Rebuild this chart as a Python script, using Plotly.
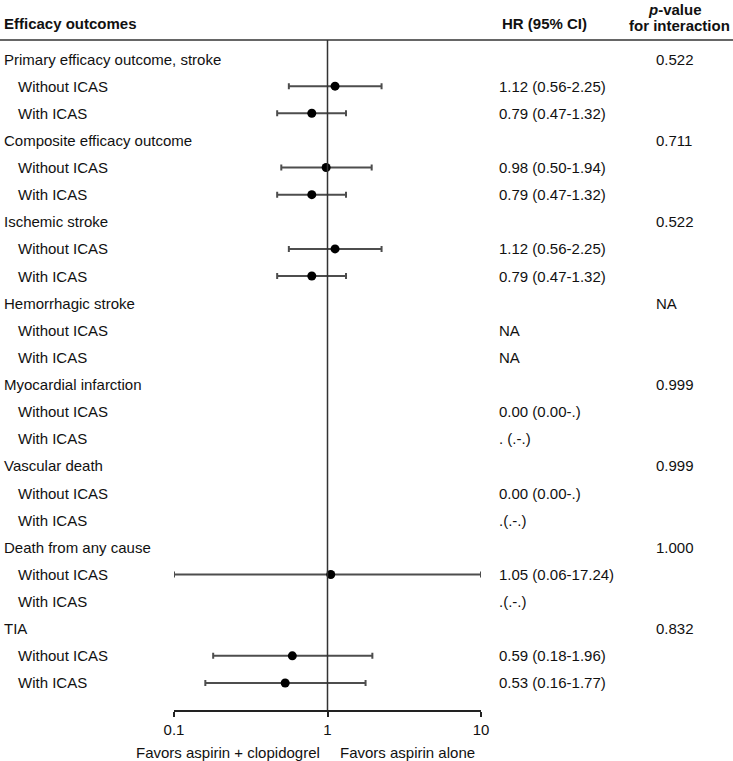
import plotly.graph_objects as go

# outcome groups and their interaction p-values
groups = ["Primary efficacy outcome, stroke", "Composite efficacy outcome", "Ischemic stroke",
          "Hemorrhagic stroke", "Myocardial infarction", "Vascular death",
          "Death from any cause", "TIA"]
p_values = ["0.522", "0.711", "0.522", "NA", "0.999", "0.999", "1.000", "0.832"]
subgroups = ["Without ICAS", "With ICAS"]

# hazard ratios (None = not estimable, no point drawn)
hr_without = [1.12, 0.98, 1.12, None, None, None, 1.05, 0.59]
lo_without = [0.56, 0.50, 0.56, None, None, None, 0.06, 0.18]
hi_without = [2.25, 1.94, 2.25, None, None, None, 17.24, 1.96]
hr_with = [0.79, 0.79, 0.79, None, None, None, None, 0.53]
lo_with = [0.47, 0.47, 0.47, None, None, None, None, 0.16]
hi_with = [1.32, 1.32, 1.32, None, None, None, None, 1.77]

text_without = ["1.12 (0.56-2.25)", "0.98 (0.50-1.94)", "1.12 (0.56-2.25)", "NA",
                "0.00 (0.00-.)", "0.00 (0.00-.)", "1.05 (0.06-17.24)", "0.59 (0.18-1.96)"]
text_with = ["0.79 (0.47-1.32)", "0.79 (0.47-1.32)", "0.79 (0.47-1.32)", "NA",
             ". (.-.)", ".(.-.)", ".(.-.)", "0.53 (0.16-1.77)"]

tick_vals = [0.1, 1, 10]
tick_text = ["0.1", "1", "10"]
x_min, x_max = 0.1, 10

# page geometry (pixels)
W, H = 733, 761
PLOT_BOTTOM = 710
ROW0 = 59
ROW_H = 27.13
FONT = "Liberation Sans, Arial, sans-serif"


def px_x(p):
    return p / W


def px_y(p):
    return 1 - p / PLOT_BOTTOM


# build rows
ys, xs, minus, plus = [], [], [], []
annotations = []
for g, name in enumerate(groups):
    base = 3 * g
    annotations.append(dict(x=px_x(3), y=base, text=name, xanchor="left"))
    annotations.append(dict(x=px_x(655), y=base, text=p_values[g], xanchor="left"))
    for k, (hr, lo, hi, txt) in enumerate([
            (hr_without[g], lo_without[g], hi_without[g], text_without[g]),
            (hr_with[g], lo_with[g], hi_with[g], text_with[g])]):
        row = base + 1 + k
        annotations.append(dict(x=px_x(17), y=row, text=subgroups[k], xanchor="left"))
        annotations.append(dict(x=px_x(498), y=row, text=txt, xanchor="left"))
        if hr is not None:
            lo_c = max(lo, x_min)
            hi_c = min(hi, x_max)
            ys.append(row)
            xs.append(hr)
            minus.append(hr - lo_c)
            plus.append(hi_c - hr)

for a in annotations:
    a.update(xref="paper", yref="y", yanchor="middle", showarrow=False, borderpad=0,
             font=dict(family=FONT, size=15, color="#111111"))

fig = go.Figure()
fig.add_trace(go.Scatter(
    x=xs, y=ys, mode="markers",
    marker=dict(color="black", size=9),
    error_x=dict(type="data", symmetric=False, array=plus, arrayminus=minus,
                 color="#4d4d4d", thickness=2, width=3),
    showlegend=False, hoverinfo="x"
))

# headers and bottom labels
hdr = dict(xref="paper", yref="paper", yanchor="middle", showarrow=False, borderpad=0)
head_font = dict(family=FONT, size=15, color="#111111")
extra = [
    dict(x=px_x(3), y=px_y(24), text="<b>Efficacy outcomes</b>", xanchor="left"),
    dict(x=px_x(501), y=px_y(24), text="<b>HR (95% CI)</b>", xanchor="left"),
    dict(x=px_x(675), y=px_y(10), text="<b><i>p</i>-value</b>", xanchor="center"),
    dict(x=px_x(679), y=px_y(26), text="<b>for interaction</b>", xanchor="center"),
    dict(x=px_x(321), y=px_y(752), text="Favors aspirin + clopidogrel", xanchor="right"),
    dict(x=px_x(339), y=px_y(752), text="Favors aspirin alone", xanchor="left"),
]
for a in extra:
    a.update(hdr)
    a["font"] = head_font
annotations += extra

y_top = -ROW0 / ROW_H
y_bottom = (PLOT_BOTTOM - ROW0) / ROW_H
header_line = (40 - ROW0) / ROW_H

fig.update_layout(
    width=W, height=H,
    margin=dict(l=0, r=0, t=0, b=H - PLOT_BOTTOM, pad=0, autoexpand=False),
    paper_bgcolor="white", plot_bgcolor="white",
    font=dict(family=FONT, size=15, color="#111111"),
    annotations=annotations,
    shapes=[
        dict(type="line", xref="paper", yref="y", x0=0, x1=1, y0=header_line, y1=header_line,
             line=dict(color="#333333", width=1.5)),
        dict(type="line", xref="x", yref="y", x0=1, x1=1, y0=header_line, y1=y_bottom,
             line=dict(color="#333333", width=1.5)),
    ],
    xaxis=dict(type="log", range=[-1, 1], domain=[174 / W, 481 / W], automargin=False,
               showgrid=False, zeroline=False, showline=True, linecolor="#222222", linewidth=1.5,
               ticks="outside", ticklen=5, tickwidth=1.5, tickcolor="#222222",
               tickvals=tick_vals, ticktext=tick_text,
               tickfont=dict(family=FONT, size=15, color="#111111")),
    yaxis=dict(range=[y_bottom, y_top], visible=False, automargin=False,
               showgrid=False, zeroline=False),
)

# drop the default page margin so the figure sits at the window's corner
fig.write_html("out.html", config={"displayModeBar": False},
               post_script="document.body.style.margin='0px';document.body.style.overflow='hidden';")
